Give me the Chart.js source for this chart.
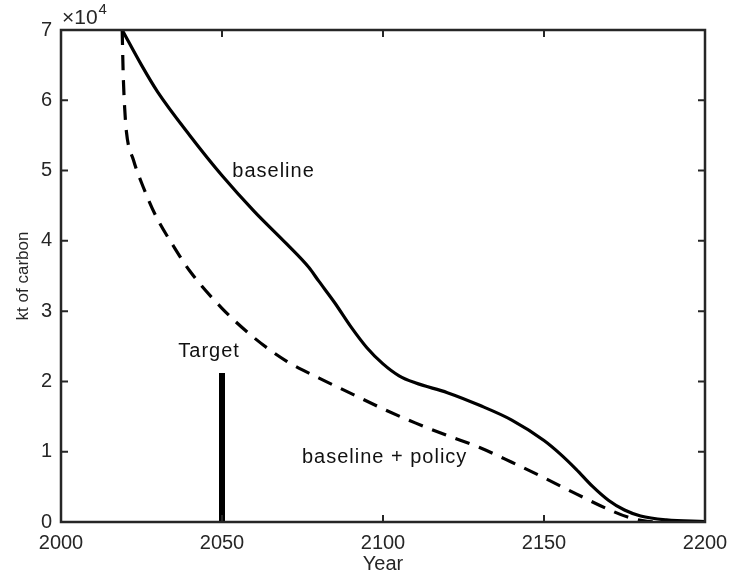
<!DOCTYPE html>
<html>
<head>
<meta charset="utf-8">
<script src="https://cdn.jsdelivr.net/npm/chart.js@4.4.1/dist/chart.umd.min.js"></script>
<style>
  html, body { margin: 0; padding: 0; background: #fff; }
  #wrap { width: 729px; height: 576px; }
</style>
</head>
<body>
<div id="wrap"><canvas id="carbonChart" width="729" height="576"></canvas></div>
<script>
// Emissions curves (kt of carbon, in units of 10^4)
var baselineYears = [2019, 2025, 2030, 2040, 2050, 2060, 2070, 2077, 2080, 2085, 2090, 2095, 2100, 2105, 2110, 2120, 2130, 2140, 2150, 2155, 2160, 2165, 2170, 2175, 2180, 2188, 2200];
var baselineValues = [7.00, 6.50, 6.12, 5.50, 4.93, 4.42, 3.96, 3.62, 3.43, 3.12, 2.78, 2.48, 2.25, 2.08, 1.98, 1.84, 1.66, 1.45, 1.16, 0.97, 0.75, 0.51, 0.31, 0.17, 0.085, 0.03, 0.005];

var policyYears = [2019, 2019.3, 2019.7, 2020.3, 2022.5, 2025.5, 2029.5, 2035, 2040, 2050, 2060, 2070, 2080, 2090, 2100, 2110, 2120, 2130, 2140, 2150, 2160, 2170, 2176, 2182, 2186, 2200];
var policyValues = [7.00, 6.40, 5.95, 5.56, 5.15, 4.77, 4.35, 3.92, 3.57, 3.04, 2.62, 2.29, 2.05, 1.83, 1.61, 1.41, 1.23, 1.06, 0.85, 0.63, 0.40, 0.18, 0.07, 0.01, 0.0, 0.0];

var targetYear = 2050;
var targetValue = 2.12;

var xTicks = [2000, 2050, 2100, 2150, 2200];
var yTicks = [0, 1, 2, 3, 4, 5, 6, 7];

// text labels placed in data coordinates
var notes = [
    { text: 'baseline', x: 2066, y: 4.98 },
    { text: 'Target', x: 2046, y: 2.42 },
    { text: 'baseline + policy', x: 2100.5, y: 0.92 }
];

var axisColor = '#262626';
var fontFam = '"Liberation Sans", Arial, Helvetica, sans-serif';

function toPoints(xs, ys) {
    var out = [];
    for (var i = 0; i < xs.length; i++) out.push({ x: xs[i], y: ys[i] * 10000 });
    return out;
}

// box, inward ticks, exponent and notes
var matlabAxes = {
    id: 'matlabAxes',
    afterDatasetsDraw: function (chart) {
        var ctx = chart.ctx;
        var a = chart.chartArea;
        var sx = chart.scales.x, sy = chart.scales.y;
        ctx.save();
        ctx.strokeStyle = axisColor;
        ctx.lineWidth = 2.5;
        ctx.strokeRect(a.left, a.top, a.right - a.left, a.bottom - a.top);
        ctx.lineWidth = 2;
        var tl = 7;
        xTicks.forEach(function (v) {
            var px = sx.getPixelForValue(v);
            ctx.beginPath();
            ctx.moveTo(px, a.bottom); ctx.lineTo(px, a.bottom - tl);
            ctx.moveTo(px, a.top); ctx.lineTo(px, a.top + tl);
            ctx.stroke();
        });
        yTicks.forEach(function (v) {
            var py = sy.getPixelForValue(v * 10000);
            ctx.beginPath();
            ctx.moveTo(a.left, py); ctx.lineTo(a.left + tl, py);
            ctx.moveTo(a.right, py); ctx.lineTo(a.right - tl, py);
            ctx.stroke();
        });
        // x10^4 exponent
        ctx.fillStyle = axisColor;
        ctx.textBaseline = 'alphabetic';
        ctx.textAlign = 'left';
        ctx.font = '21px ' + fontFam;
        ctx.fillText('\u00d710', a.left + 1, a.top - 6);
        var w = ctx.measureText('\u00d710').width;
        ctx.font = '15px ' + fontFam;
        ctx.fillText('4', a.left + 2 + w, a.top - 16);
        // notes
        ctx.fillStyle = '#111';
        ctx.font = '20px ' + fontFam;
        ctx.letterSpacing = '1px';
        ctx.textAlign = 'center';
        ctx.textBaseline = 'middle';
        notes.forEach(function (n) {
            ctx.fillText(n.text, sx.getPixelForValue(n.x), sy.getPixelForValue(n.y * 10000));
        });
        ctx.restore();
    }
};

new Chart(document.getElementById('carbonChart'), {
    type: 'scatter',
    data: {
        datasets: [{
            label: 'baseline',
            data: toPoints(baselineYears, baselineValues),
            showLine: true,
            borderColor: '#000',
            borderWidth: 3.2,
            pointRadius: 0,
            cubicInterpolationMode: 'monotone'
        }, {
            label: 'baseline + policy',
            data: toPoints(policyYears, policyValues),
            showLine: true,
            borderColor: '#000',
            borderWidth: 3.2,
            borderDash: [15, 10],
            pointRadius: 0,
            cubicInterpolationMode: 'monotone'
        }, {
            label: 'Target',
            data: [{ x: targetYear, y: 0 }, { x: targetYear, y: targetValue * 10000 }],
            showLine: true,
            borderColor: '#000',
            borderWidth: 6,
            borderCapStyle: 'butt',
            pointRadius: 0
        }]
    },
    options: {
        responsive: false,
        animation: false,
        events: [],
        layout: { padding: { top: 30, right: 24, left: 0, bottom: 0 } },
        plugins: {
            legend: { display: false },
            tooltip: { enabled: false }
        },
        scales: {
            x: {
                type: 'linear',
                min: 2000,
                max: 2200,
                grid: { display: false, drawTicks: false },
                border: { display: false },
                afterFit: function (s) { s.height = 54; s.paddingRight = 0; s.paddingLeft = 0; },
                afterBuildTicks: function (s) { s.ticks = xTicks.map(function (v) { return { value: v }; }); },
                ticks: {
                    color: axisColor,
                    padding: 9,
                    maxRotation: 0,
                    font: { family: fontFam, size: 20 },
                    callback: function (v) { return String(v); }
                },
                title: {
                    display: true,
                    text: 'Year',
                    color: axisColor,
                    padding: 0,
                    font: { family: fontFam, size: 20 }
                }
            },
            y: {
                min: 0,
                max: 70000,
                grid: { display: false, drawTicks: false },
                border: { display: false },
                afterFit: function (s) { s.width = 61; s.paddingTop = 0; s.paddingBottom = 0; },
                afterBuildTicks: function (s) { s.ticks = yTicks.map(function (v) { return { value: v * 10000 }; }); },
                ticks: {
                    color: axisColor,
                    padding: 9,
                    font: { family: fontFam, size: 20 },
                    callback: function (v) { return String(v / 10000); }
                },
                title: {
                    display: true,
                    text: 'kt of carbon',
                    color: axisColor,
                    padding: 13,
                    font: { family: fontFam, size: 17 }
                }
            }
        }
    },
    plugins: [matlabAxes]
});
</script>
</body>
</html>
